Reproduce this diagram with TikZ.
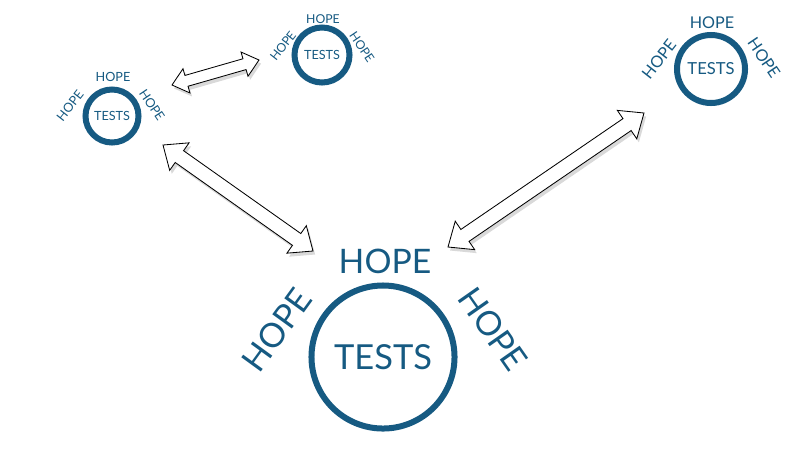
\documentclass[tikz,border=0pt]{standalone}
\usepackage{fontspec}
\setmainfont{Lato}
\usetikzlibrary{calc,shapes.arrows,shadows}
\definecolor{hopeblue}{RGB}{22,90,130}
\begin{document}
\begin{tikzpicture}[x=0.025cm, y=-0.025cm,
  ring/.style={circle, draw=hopeblue, line width=0.15cm, text=hopeblue, inner sep=0pt},
  hope/.style={text=hopeblue, inner sep=0pt},
  blockarrow/.style 2 args={double arrow, draw=black, line width=0.6pt, fill=white,
    inner sep=#1, double arrow head extend=#2, double arrow tip angle=80,
    drop shadow={opacity=0.3, shadow xshift=1.5pt, shadow yshift=-2.5pt}}]
  \useasboundingbox (0,0) rectangle (800,450);

  % Ends of the block arrows
  \coordinate (a1) at (172,85);
  \coordinate (b1) at (259,60);
  \coordinate (a2) at (163,145);
  \coordinate (b2) at (313,251);
  \coordinate (a3) at (448,247);
  \coordinate (b3) at (644,113);

  % Small circle on the left
  \node[ring, minimum size=1.325cm, font=\fontsize{9}{10}\selectfont] (small) at (112,116) {TESTS};
  \node[hope, font=\fontsize{9}{10}\selectfont] (smallT) at ($(small)+(1,-39)$) {HOPE};
  \node[hope, font=\fontsize{9}{10}\selectfont, rotate=52] (smallL) at ($(small)+(-42,-10)$) {HOPE};
  \node[hope, font=\fontsize{9}{10}\selectfont, rotate=-56] (smallR) at ($(small)+(40,-11)$) {HOPE};

  % Circle at the top
  \node[ring, minimum size=1.375cm, font=\fontsize{9}{10}\selectfont] (top) at (322,55) {TESTS};
  \node[hope, font=\fontsize{8.7}{10}\selectfont] (topT) at ($(top)+(1,-36)$) {HOPE};
  \node[hope, font=\fontsize{8.7}{10}\selectfont, rotate=52] (topL) at ($(top)+(-39,-9)$) {HOPE};
  \node[hope, font=\fontsize{8.7}{10}\selectfont, rotate=-56] (topR) at ($(top)+(40,-8)$) {HOPE};

  % Circle on the right
  \node[ring, minimum size=1.7cm, font=\fontsize{11.8}{13}\selectfont] (far) at (711,69) {TESTS};
  \node[hope, font=\fontsize{11.5}{13}\selectfont] (farT) at ($(far)+(1,-46)$) {HOPE};
  \node[hope, font=\fontsize{11.5}{13}\selectfont, rotate=52] (farL) at ($(far)+(-52,-10)$) {HOPE};
  \node[hope, font=\fontsize{11.5}{13}\selectfont, rotate=-56] (farR) at ($(far)+(53,-11)$) {HOPE};

  % Big circle at the bottom
  \node[ring, minimum size=3.575cm, font=\fontsize{24.5}{28}\selectfont] (main) at (383,357) {TESTS};
  \node[hope, font=\fontsize{24}{28}\selectfont] (mainT) at ($(main)+(2,-96)$) {HOPE};
  \node[hope, font=\fontsize{24}{28}\selectfont, rotate=54] (mainL) at ($(main)+(-106,-27)$) {HOPE};
  \node[hope, font=\fontsize{24}{28}\selectfont, rotate=-55] (mainR) at ($(main)+(110,-28)$) {HOPE};

  % Double block arrows between the circles
  \path let \p1=($(b1)-(a1)$) in node[blockarrow={0.13cm}{0.175cm},
    minimum height={veclen(\x1,\y1)}, rotate={atan2(\y1,\x1)}] (ar1) at ($(a1)!0.5!(b1)$) {};
  \path let \p1=($(b2)-(a2)$) in node[blockarrow={0.17cm}{0.24cm},
    minimum height={veclen(\x1,\y1)}, rotate={atan2(\y1,\x1)}] (ar2) at ($(a2)!0.5!(b2)$) {};
  \path let \p1=($(b3)-(a3)$) in node[blockarrow={0.17cm}{0.25cm},
    minimum height={veclen(\x1,\y1)}, rotate={atan2(\y1,\x1)}] (ar3) at ($(a3)!0.5!(b3)$) {};
\end{tikzpicture}
\end{document}
